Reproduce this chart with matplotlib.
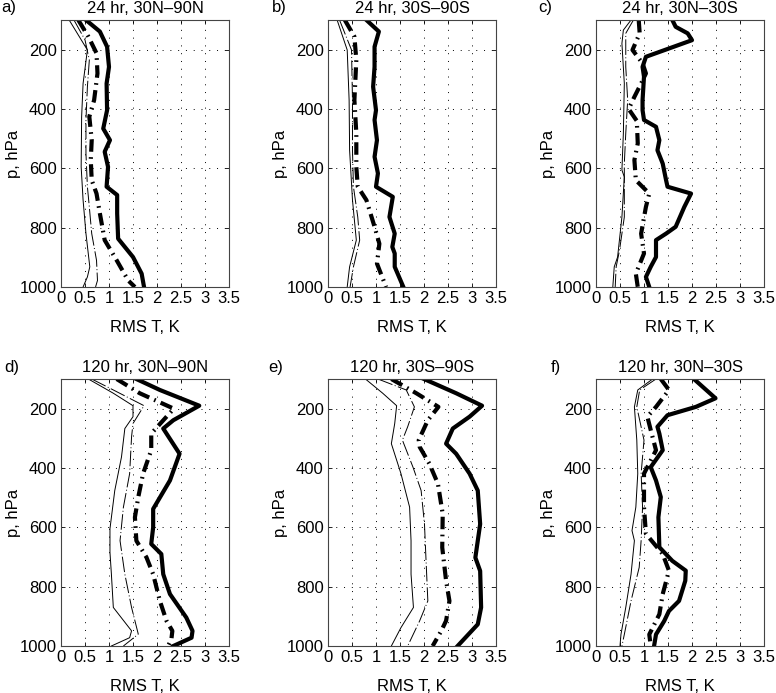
import numpy as np
import matplotlib
matplotlib.use("Agg")
import matplotlib.pyplot as plt

plt.rcParams['font.family'] = ['Liberation Sans', 'DejaVu Sans']
plt.rcParams['font.size'] = 12

# RMS T profiles (K) vs pressure (hPa)
# tk = thick solid, td = thick dash-dot, nd = thin dash-dot, ns = thin solid
a_p_tk = [100, 139, 190, 258, 314, 404, 466, 505, 544, 595, 662, 690, 752, 837, 899, 955, 1000]
a_t_tk = [0.52, 0.81, 0.96, 1.00, 0.95, 0.96, 0.88, 1.02, 0.91, 0.98, 0.95, 1.17, 1.17, 1.19, 1.50, 1.68, 1.73]
a_p_td = [100, 156, 212, 280, 370, 426, 505, 572, 640, 685, 752, 842, 910, 978, 1000]
a_t_td = [0.36, 0.57, 0.74, 0.76, 0.69, 0.59, 0.64, 0.62, 0.64, 0.74, 0.81, 0.91, 1.16, 1.40, 1.54]
a_p_nd = [100, 167, 235, 325, 437, 550, 662, 730, 820, 910, 978, 1000]
a_t_nd = [0.27, 0.50, 0.59, 0.55, 0.52, 0.52, 0.55, 0.59, 0.64, 0.74, 0.76, 0.72]
a_p_ns = [100, 201, 314, 426, 595, 707, 820, 932, 966, 1000]
a_t_ns = [0.17, 0.55, 0.46, 0.43, 0.42, 0.46, 0.52, 0.60, 0.55, 0.46]

b_p_tk = [100, 139, 190, 258, 325, 404, 437, 505, 561, 617, 662, 696, 764, 820, 865, 887, 932, 1000]
b_t_tk = [0.80, 1.06, 0.97, 0.97, 0.94, 1.00, 0.97, 1.02, 0.97, 1.04, 1.00, 1.35, 1.28, 1.39, 1.34, 1.39, 1.39, 1.57]
b_p_td = [100, 156, 235, 370, 482, 595, 662, 707, 797, 854, 921, 1000]
b_t_td = [0.35, 0.55, 0.59, 0.55, 0.59, 0.59, 0.62, 0.80, 0.97, 1.07, 1.02, 1.21]
b_p_nd = [100, 201, 370, 539, 662, 764, 842, 932, 1000]
b_t_nd = [0.24, 0.49, 0.51, 0.51, 0.53, 0.62, 0.66, 0.53, 0.46]
b_p_ns = [100, 201, 370, 539, 707, 842, 932, 1000]
b_t_ns = [0.19, 0.40, 0.44, 0.45, 0.51, 0.59, 0.45, 0.40]

c_p_tk = [100, 123, 145, 168, 224, 258, 291, 370, 404, 437, 460, 505, 539, 584, 640, 662, 685, 730, 797, 820, 842, 899, 932, 966, 1000]
c_t_tk = [1.59, 1.66, 1.91, 2.00, 1.04, 0.97, 1.00, 0.97, 0.97, 1.00, 1.25, 1.32, 1.28, 1.39, 1.46, 1.49, 1.98, 1.84, 1.66, 1.46, 1.25, 1.25, 1.14, 1.04, 1.11]
c_p_td = [100, 145, 201, 246, 280, 314, 359, 400, 440, 516, 572, 640, 685, 730, 820, 887, 955, 1000]
c_t_td = [0.89, 0.91, 0.76, 0.97, 1.04, 0.94, 0.80, 0.68, 0.85, 0.87, 0.80, 0.83, 1.11, 1.04, 0.94, 1.00, 0.83, 0.87]
c_p_nd = [100, 145, 258, 370, 482, 584, 764, 876, 932, 1000]
c_t_nd = [0.78, 0.62, 0.62, 0.66, 0.62, 0.59, 0.59, 0.49, 0.42, 0.40]
c_p_ns = [100, 134, 179, 314, 482, 606, 629, 764, 899, 932, 1000]
c_t_ns = [0.73, 0.57, 0.54, 0.59, 0.57, 0.54, 0.59, 0.54, 0.45, 0.38, 0.35]

d_p_tk = [100, 137, 190, 239, 267, 352, 442, 538, 600, 656, 690, 758, 825, 904, 949, 972, 1000]
d_t_tk = [1.57, 2.06, 2.88, 2.34, 2.13, 2.47, 2.27, 1.92, 1.92, 1.88, 2.09, 2.13, 2.27, 2.61, 2.74, 2.72, 2.34]
d_p_td = [100, 148, 200, 284, 340, 419, 498, 566, 645, 701, 758, 848, 916, 949, 977, 1000]
d_t_td = [1.16, 1.64, 2.35, 1.88, 1.88, 1.71, 1.61, 1.54, 1.57, 1.78, 1.92, 2.06, 2.20, 2.32, 2.30, 2.23]
d_p_nd = [100, 137, 190, 250, 295, 419, 532, 645, 758, 870, 960, 1000]
d_t_nd = [0.64, 1.09, 1.73, 1.50, 1.47, 1.43, 1.30, 1.23, 1.33, 1.47, 1.61, 1.30]
d_p_ns = [100, 148, 190, 227, 267, 363, 476, 605, 684, 758, 870, 949, 972, 1000]
d_t_ns = [0.57, 1.09, 1.50, 1.50, 1.33, 1.26, 1.12, 1.02, 1.02, 1.05, 1.09, 1.47, 1.43, 1.05]

e_p_tk = [100, 148, 190, 227, 267, 318, 352, 419, 476, 589, 702, 747, 870, 927, 1000]
e_t_tk = [2.00, 2.67, 3.21, 2.95, 2.60, 2.46, 2.67, 2.95, 3.12, 3.17, 3.07, 3.17, 3.19, 3.12, 2.70]
e_p_td = [100, 148, 194, 239, 306, 329, 385, 453, 555, 668, 780, 848, 915, 949, 1000]
e_t_td = [1.32, 1.84, 2.30, 2.08, 1.89, 1.91, 2.11, 2.29, 2.39, 2.38, 2.46, 2.53, 2.46, 2.36, 2.18]
e_p_nd = [100, 137, 194, 261, 306, 397, 476, 589, 702, 848, 915, 1000]
e_t_nd = [1.04, 1.63, 1.80, 1.66, 1.55, 1.77, 1.94, 2.01, 2.04, 2.08, 1.91, 1.66]
e_p_ns = [100, 148, 190, 250, 318, 419, 532, 645, 758, 870, 938, 1000]
e_t_ns = [0.78, 1.14, 1.43, 1.39, 1.32, 1.52, 1.70, 1.73, 1.73, 1.78, 1.52, 1.32]

f_p_tk = [100, 126, 165, 194, 222, 261, 284, 340, 397, 442, 498, 566, 667, 713, 746, 780, 848, 882, 916, 961, 1000]
f_t_tk = [2.04, 2.22, 2.49, 2.08, 1.49, 1.28, 1.32, 1.39, 1.14, 1.25, 1.35, 1.30, 1.32, 1.59, 1.87, 1.86, 1.73, 1.52, 1.42, 1.25, 1.21]
f_p_td = [100, 137, 194, 227, 272, 340, 419, 532, 622, 690, 746, 825, 893, 961, 1000]
f_t_td = [1.35, 1.52, 1.25, 1.07, 1.14, 1.25, 1.00, 1.00, 1.04, 1.39, 1.52, 1.39, 1.32, 1.11, 1.14]
f_p_nd = [100, 137, 194, 306, 419, 532, 645, 735, 848, 961, 1000]
f_t_nd = [1.25, 0.91, 0.85, 1.00, 0.94, 0.97, 0.94, 0.90, 0.73, 0.59, 0.54]
f_p_ns = [100, 137, 194, 306, 419, 532, 611, 645, 758, 870, 961, 1000]
f_t_ns = [1.18, 0.87, 0.80, 0.85, 0.87, 0.83, 0.75, 0.80, 0.73, 0.62, 0.52, 0.50]

titles = ["24 hr, 30N\u201390N", "24 hr, 30S\u201390S", "24 hr, 30N\u201330S",
          "120 hr, 30N\u201390N", "120 hr, 30S\u201390S", "120 hr, 30N\u201330S"]
letters = ["a)", "b)", "c)", "d)", "e)", "f)"]
xticks = [0, 0.5, 1, 1.5, 2, 2.5, 3, 3.5]
xticklabels = ["0", "0.5", "1", "1.5", "2", "2.5", "3", "3.5"]
yticks = [200, 400, 600, 800, 1000]

panels = [
    (a_p_ns, a_t_ns, a_p_nd, a_t_nd, a_p_td, a_t_td, a_p_tk, a_t_tk),
    (b_p_ns, b_t_ns, b_p_nd, b_t_nd, b_p_td, b_t_td, b_p_tk, b_t_tk),
    (c_p_ns, c_t_ns, c_p_nd, c_t_nd, c_p_td, c_t_td, c_p_tk, c_t_tk),
    (d_p_ns, d_t_ns, d_p_nd, d_t_nd, d_p_td, d_t_td, d_p_tk, d_t_tk),
    (e_p_ns, e_t_ns, e_p_nd, e_t_nd, e_p_td, e_t_td, e_p_tk, e_t_tk),
    (f_p_ns, f_t_ns, f_p_nd, f_t_nd, f_p_td, f_t_td, f_p_tk, f_t_tk),
]

W, H = 776, 693
fig = plt.figure(figsize=(W / 100, H / 100), dpi=100)

lefts = [61, 328, 596]
tops = [20, 379]
aw, ah = 168, 267
letter_x = [[1, 272, 538], [4, 268, 551]]
letter_y = [12, 372]

for i, (pns, tns, pnd, tnd, ptd, ttd, ptk, ttk) in enumerate(panels):
    r, c = divmod(i, 3)
    ax = fig.add_axes([lefts[c] / W, 1 - (tops[r] + ah) / H, aw / W, ah / H])
    ax.plot(tns, pns, color='black', lw=0.7)
    ax.plot(tnd, pnd, color='black', lw=0.7, linestyle=(0, (16, 2.5, 1, 2.5)))
    ax.plot(ttd, ptd, color='black', lw=3.0, linestyle=(0, (3.0, 1.3, 0.4, 1.3)))
    ax.plot(ttk, ptk, color='black', lw=3.0)
    ax.set_xlim(0, 3.5)
    ax.set_ylim(1000, 100)
    ax.set_xticks(xticks)
    ax.set_xticklabels(xticklabels)
    ax.set_yticks(yticks)
    ax.grid(True, linestyle=(0, (1, 7)), color='black', lw=0.7)
    ax.tick_params(direction='in', top=True, right=True, length=3, width=0.6,
                   labelsize=12, pad=3)
    for s in ax.spines.values():
        s.set_linewidth(0.8)
        s.set_color('#444444')
    ax.set_title(titles[i], fontsize=12, pad=5)
    ax.set_xlabel("RMS T, K", fontsize=12)
    ax.set_ylabel("p, hPa", fontsize=12)
    ax.xaxis.set_label_coords(0.5, -0.125)
    ax.yaxis.set_label_coords(-0.24, 0.5)
    fig.text(letter_x[r][c] / W, 1 - letter_y[r] / H, letters[i],
             fontsize=12, va='baseline', ha='left')

fig.savefig("out.png", dpi=100)
